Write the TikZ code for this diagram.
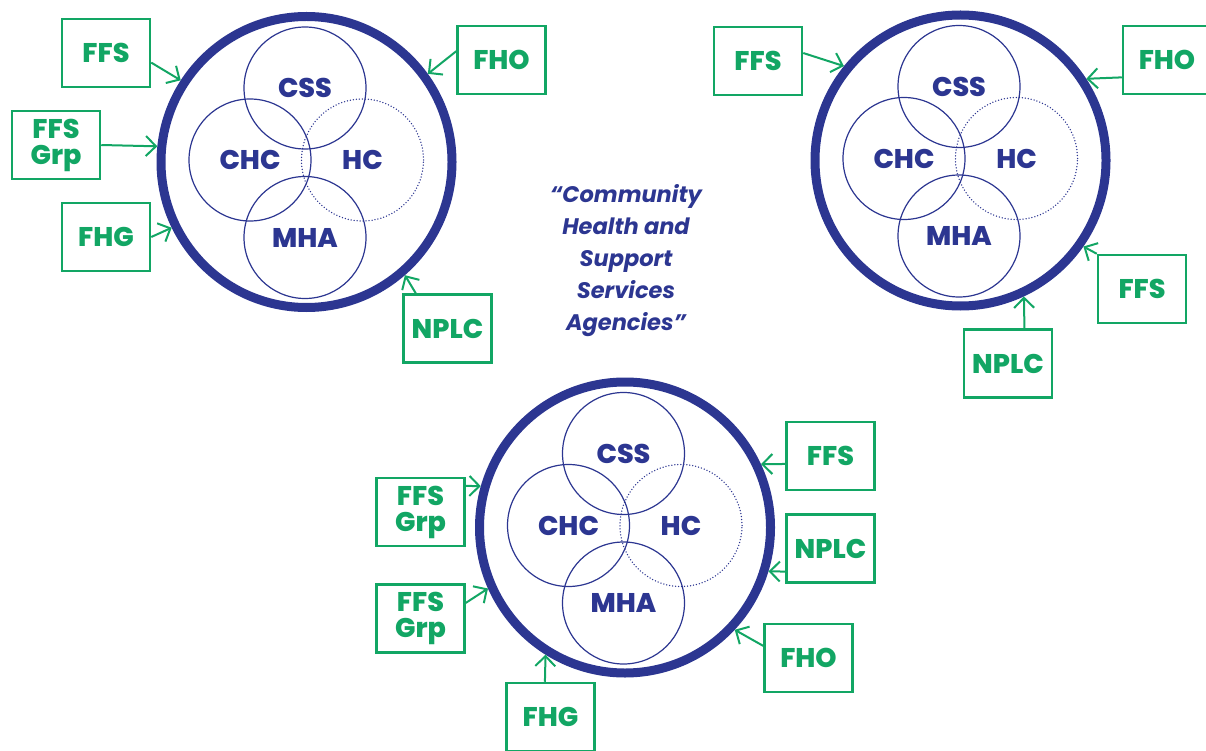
\documentclass[tikz,border=0pt]{standalone}
\usepackage{fontspec}
\setmainfont{Poppins}
\newfontfamily\heavy{Poppins ExtraBold}
\usetikzlibrary{arrows.meta}
\definecolor{ringblue}{RGB}{44,54,145}
\definecolor{boxgreen}{RGB}{18,166,100}

\begin{document}
\begin{tikzpicture}[x=1pt,y=-1pt,
    ring/.style={circle,draw=ringblue,line width=9pt,minimum size=291pt,inner sep=0pt},
    petal/.style={circle,draw=ringblue,line width=1.2pt,minimum size=122pt,inner sep=0pt,
        text=ringblue,font=\fontsize{27}{27}\selectfont\heavy},
    hc/.style={petal,line width=1.5pt,line cap=round,dash pattern=on 0pt off 3pt},
    funder/.style={draw=boxgreen,line width=2.5pt,minimum width=88pt,minimum height=68pt,
        inner sep=0pt,text=boxgreen,align=center,font=\fontsize{27}{26}\selectfont\heavy},
    feed/.style={draw=boxgreen,line width=2pt,-{Straight Barb[length=10pt,width=20pt]}}]
    \useasboundingbox (0,0) rectangle (1206,751);
    \foreach \c/\x/\y in {A/306.5/162,B/960.5/160.5,C/625/527.5}{
        \node[ring] (ring\c) at (\x,\y) {};
        \node[petal] (css\c) at (\x-1.5,\y-74) {CSS};
        \node[petal] (chc\c) at (\x-56.5,\y-2) {CHC};
        \node[hc] (hc\c) at (\x+56,\y-2) {HC};
        \node[petal] (mha\c) at (\x-1.5,\y+75.5) {MHA};
    }
    \node[text=ringblue,align=center,font=\fontsize{22.5}{32}\selectfont\bfseries\itshape]
        (title) at (626,261) {“Community\\Health and\\Support\\Services\\Agencies”};
    \node[funder] (ffsA) at (106,53) {FFS};
    \node[funder] (grpA) at (56,145) {FFS\\Grp};
    \node[funder] (fhgA) at (106,237) {FHG};
    \node[funder] (fhoA) at (501.5,60) {FHO};
    \node[funder] (nplcA) at (447.5,328.5) {NPLC};
    \node[funder] (ffsBa) at (758,61) {FFS};
    \node[funder] (fhoB) at (1167,60) {FHO};
    \node[funder] (ffsBb) at (1142,289) {FFS};
    \node[funder] (nplcB) at (1008,363.5) {NPLC};
    \node[funder] (grpCa) at (420.5,512) {FFS\\Grp};
    \node[funder] (grpCb) at (420.5,618.5) {FFS\\Grp};
    \node[funder] (fhgC) at (550.5,717) {FHG};
    \node[funder] (ffsC) at (830.5,456) {FFS};
    \node[funder] (nplcC) at (830.5,548.5) {NPLC};
    \node[funder] (fhoC) at (808.5,658) {FHO};
    \draw[feed] (ffsA.-12) -- (ringA.147);
    \draw[feed] (grpA.east) -- (ringA.174);
    \draw[feed] (fhgA.east) -- (ringA.206);
    \draw[feed] (fhoA.169) -- (ringA.36);
    \draw[feed] (nplcA.132) -- (ringA.-49);
    \draw[feed] (ffsBa.10) -- (ringB.141);
    \draw[feed] (fhoB.201) -- (ringB.33.5);
    \draw[feed] (ffsBb.north west) -- (ringB.-35);
    \draw[feed] (nplcB.65) -- (ringB.-65);
    \draw[feed] (grpCa.30) -- (ringC.164);
    \draw[feed] (grpCb.19) -- (ringC.204);
    \draw[feed] (fhgC.99) -- (ringC.238);
    \draw[feed] (ffsC.190) -- (ringC.25);
    \draw[feed] (nplcC.207) -- (ringC.-17);
    \draw[feed] (fhoC.165) -- (ringC.-43);
  \end{tikzpicture}
\end{document}
